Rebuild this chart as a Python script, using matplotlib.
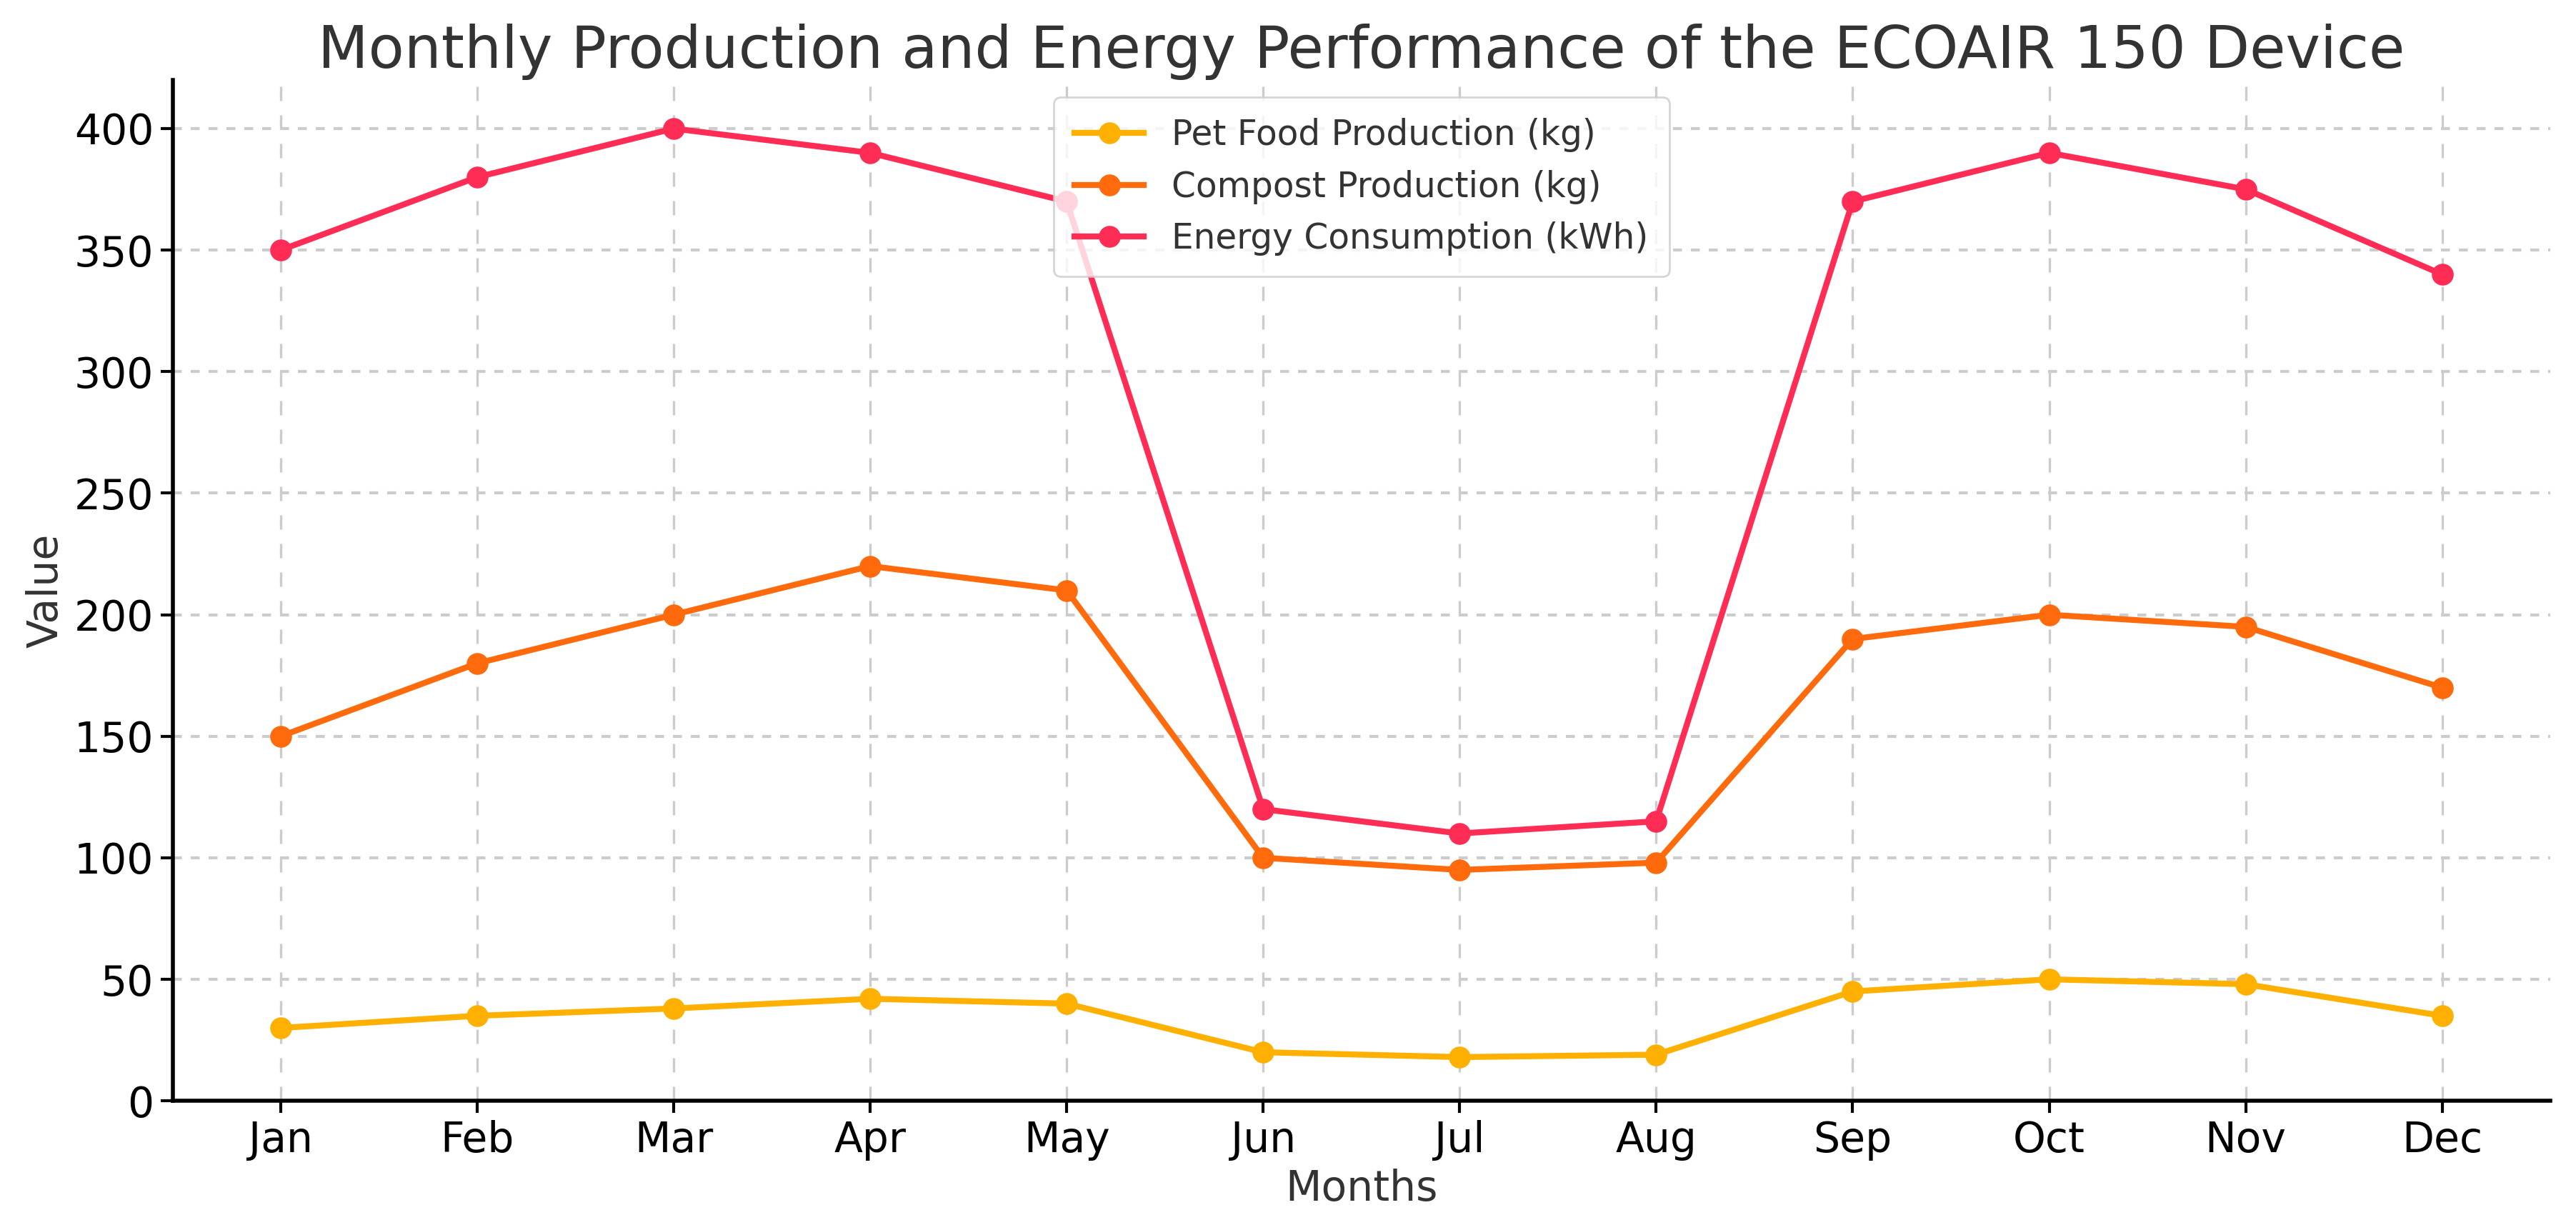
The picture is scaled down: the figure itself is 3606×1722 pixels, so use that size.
import numpy as np
import matplotlib
matplotlib.use("Agg")
import matplotlib.pyplot as plt

months = ['Jan', 'Feb', 'Mar', 'Apr', 'May', 'Jun', 'Jul', 'Aug', 'Sep', 'Oct', 'Nov', 'Dec']
pet_food = [30, 35, 38, 42, 40, 20, 18, 19, 45, 50, 48, 35]
compost = [150, 180, 200, 220, 210, 100, 95, 98, 190, 200, 195, 170]
energy = [350, 380, 400, 390, 370, 120, 110, 115, 370, 390, 375, 340]

plt.rcParams['font.family'] = ['DejaVu Sans']

fig, ax = plt.subplots(figsize=(18.03, 8.61), dpi=200)

ax.plot(months, pet_food, marker='o', color='#ffb000', lw=3, ms=10, label='Pet Food Production (kg)')
ax.plot(months, compost, marker='o', color='#ff6a0d', lw=3, ms=10, label='Compost Production (kg)')
ax.plot(months, energy, marker='o', color='#ff2d55', lw=3, ms=10, label='Energy Consumption (kWh)')

ax.set_ylim(0, 420)
ax.set_yticks(np.arange(0, 401, 50))
ax.set_title('Monthly Production and Energy Performance of the ECOAIR 150 Device', fontsize=29.5, color='#333333')
ax.set_xlabel('Months', fontsize=21, color='#333333')
ax.set_ylabel('Value', fontsize=21, color='#333333')
ax.tick_params(labelsize=21, length=6, width=1.5)

# grille pointillée, plus claire
ax.xaxis.grid(True, linestyle=(0, (6, 6)), color='#cccccc', lw=1.2)
ax.yaxis.grid(True, linestyle=(0, (3, 3)), color='#cccccc', lw=1.5)
ax.set_axisbelow(True)

for s in ['top', 'right']:
    ax.spines[s].set_visible(False)
for s in ['left', 'bottom']:
    ax.spines[s].set_linewidth(2)
    ax.spines[s].set_color('black')

leg = ax.legend(loc='upper center', fontsize=17.5, framealpha=0.8, borderpad=0.6)
for t in leg.get_texts():
    t.set_color('#333333')

fig.subplots_adjust(left=0.067, right=0.99, top=0.935, bottom=0.105)
fig.savefig('out.png', dpi=200)
